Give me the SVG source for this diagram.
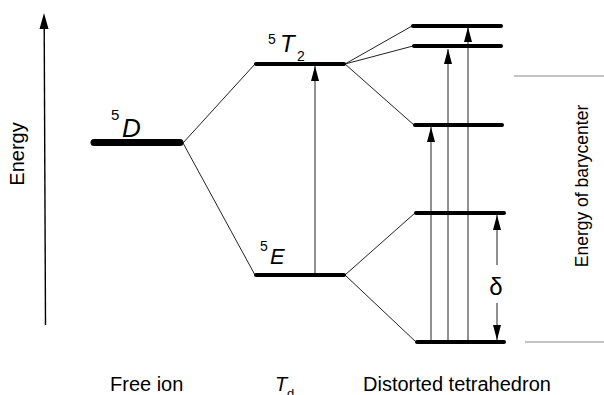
<svg xmlns="http://www.w3.org/2000/svg" width="604" height="395" viewBox="0 0 604 395">
<style>
.lvl{stroke:#000;stroke-width:4;stroke-linecap:round}
.thin{stroke:#222;stroke-width:1;fill:none}
.ar{stroke:#222;stroke-width:1}
.bary{stroke:#888;stroke-width:1.2}
text{font-family:"Liberation Sans",Arial,sans-serif;fill:#000}
.lab{font-size:20px}
.it{font-style:italic}
</style>
<defs>
<marker id="ah" viewBox="0 0 15 8" refX="15" refY="4" markerWidth="15" markerHeight="8" markerUnits="userSpaceOnUse" orient="auto">
<path d="M0,0 L15,4 L0,8 Z" fill="#000"/>
</marker>
</defs>
<rect width="604" height="395" fill="#fff"/>
<g id="axis">
<line x1="45.5" y1="325" x2="44.2" y2="26" style="stroke:#000;stroke-width:1.4"/>
<path d="M39.5,29 L44,13 L48.5,29 Z" fill="#000"/>
<text class="lab" transform="translate(24,154) rotate(-90)" text-anchor="middle">Energy</text>
</g>
<g id="connectors">
<line class="thin" x1="183" y1="143" x2="255" y2="64"/>
<line class="thin" x1="183" y1="143" x2="255" y2="275"/>
<line class="thin" x1="345" y1="64" x2="412" y2="26"/>
<line class="thin" x1="345" y1="64" x2="413" y2="46"/>
<line class="thin" x1="345" y1="64" x2="414" y2="125"/>
<line class="thin" x1="345" y1="275" x2="415" y2="213"/>
<line class="thin" x1="345" y1="275" x2="416" y2="342"/>
<line class="ar" x1="315" y1="275" x2="315" y2="66" marker-end="url(#ah)"/>
<line class="ar" x1="431" y1="342" x2="431" y2="127" marker-end="url(#ah)"/>
<line class="ar" x1="448" y1="342" x2="448" y2="49" marker-end="url(#ah)"/>
<line class="ar" x1="468" y1="342" x2="468" y2="27" marker-end="url(#ah)"/>
<line class="ar" x1="497" y1="265" x2="497" y2="215" marker-end="url(#ah)"/>
<line class="ar" x1="497" y1="303" x2="497" y2="340" marker-end="url(#ah)"/>
</g>
<g id="free-ion">
<line x1="94" y1="142.5" x2="180" y2="142.5" style="stroke:#000;stroke-width:7;stroke-linecap:round"/>
<text x="111" y="120" font-size="15">5</text>
<text x="122" y="137" font-size="26" class="it">D</text>
<text class="lab" x="110" y="391">Free ion</text>
</g>
<g id="td">
<line class="lvl" x1="256" y1="64" x2="344" y2="64"/>
<line class="lvl" x1="256" y1="275" x2="344" y2="275"/>
<text x="268" y="44" font-size="14">5</text>
<text x="280" y="52" font-size="24" class="it">T</text>
<text x="297" y="61" font-size="14">2</text>
<text x="260" y="251" font-size="14">5</text>
<text x="270" y="264" font-size="22" class="it">E</text>
<text class="lab it" x="275" y="391">T</text>
<text x="287" y="398" font-size="13">d</text>
</g>
<g id="distorted">
<line class="lvl" x1="413" y1="26" x2="501" y2="26"/>
<line class="lvl" x1="414" y1="46" x2="501" y2="46"/>
<line class="lvl" x1="415" y1="125" x2="502" y2="125"/>
<line class="lvl" x1="416" y1="213" x2="504" y2="213"/>
<line class="lvl" x1="417" y1="342" x2="504" y2="342"/>
<text x="496" y="295" font-size="24" text-anchor="middle" font-family="Liberation Serif,serif">δ</text>
<text class="lab" x="363" y="391">Distorted tetrahedron</text>
</g>
<g id="barycenter">
<line class="bary" x1="514" y1="76" x2="604" y2="76"/>
<line class="bary" x1="525" y1="342" x2="604" y2="342"/>
<text transform="translate(588,186) rotate(-90)" font-size="17.5" text-anchor="middle">Energy of barycenter</text>
</g>
</svg>
